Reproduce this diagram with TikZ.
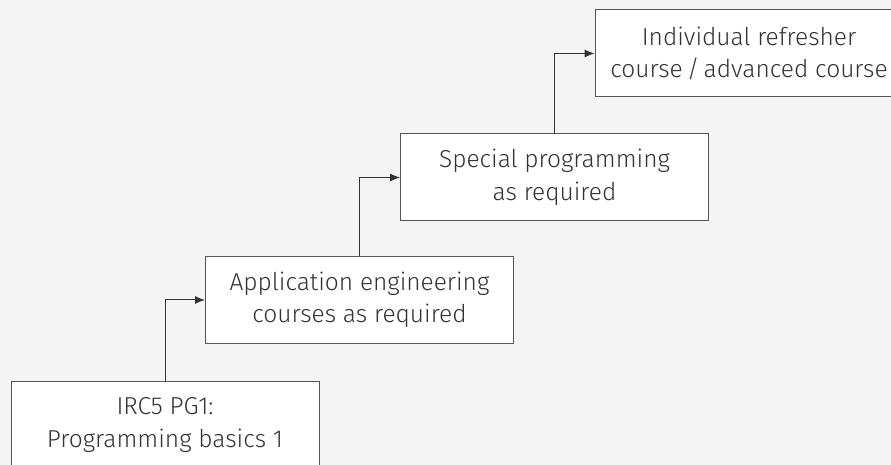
\documentclass[tikz,border=0pt]{standalone}
\usepackage{fontspec}
\setmainfont{Fira Sans Light}
\usepackage{xcolor}
\usetikzlibrary{arrows.meta}
\tikzset{>={Latex[length=10pt,width=8pt]}}
\definecolor{bgcol}{HTML}{F4F4F4}
\definecolor{boxcol}{HTML}{555555}
\definecolor{txtcol}{HTML}{333333}
\tikzset{
  course/.style={draw=boxcol,fill=white,line width=1pt,minimum width=308pt,
                 minimum height=87pt,align=center,text=txtcol,inner sep=0pt,
                 font=\fontsize{24.5}{32.5}\selectfont},
  step arrow/.style={->,line width=1pt,draw=txtcol}
}

\begin{document}
\begin{tikzpicture}[x=1pt,y=1pt]
  % BACKGROUND
  \fill[bgcol] (0,0) rectangle (891,465);
  \useasboundingbox (0,0) rectangle (891,465);
  \clip (0,0) rectangle (891,465);

  % COURSES
  \node[course] (pg1)     at (165,40)    {IRC5 PG1:\\Programming basics 1};
  \node[course] (appeng)  at (359.5,165) {Application engineering\\courses as required};
  \node[course] (special) at (554.5,287.5) {Special programming\\as required};
  \node[course] (refresh) at (749,411.5) {Individual refresher\\course\,/\,advanced course};

  % STEPS
  \draw[step arrow] (pg1.north) |- (appeng.west);
  \draw[step arrow] (appeng.north) |- (special.west);
  \draw[step arrow] (special.north) |- (refresh.west);
\end{tikzpicture}
\end{document}
